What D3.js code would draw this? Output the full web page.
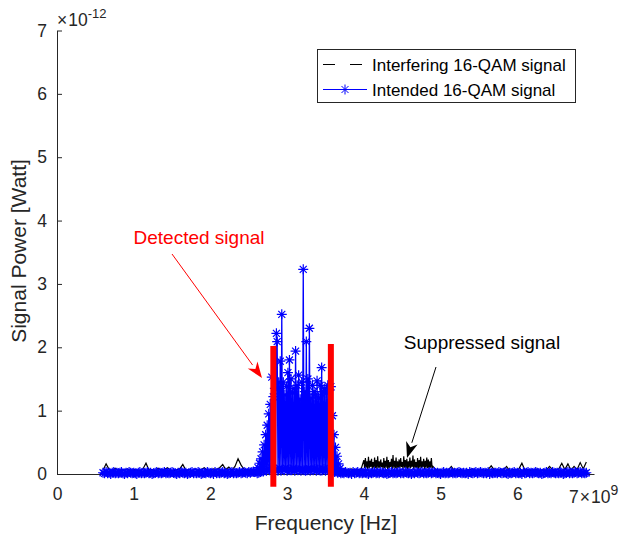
<!DOCTYPE html>
<html lang="en">
<head>
<meta charset="UTF-8">
<title>Detected vs suppressed signal</title>
<script src="https://d3js.org/d3.v7.min.js"></script>
<style>
    body { margin: 0; background: #fff; font-family: "Liberation Sans", Arial, sans-serif; }
    .tick text { font-family: "Liberation Sans", Arial, sans-serif; fill: #262626; }
</style>
</head>
<body>
<div id="chart"></div>
<script>
    // power values are in units of 1e-12 W, frequencies in GHz (axis shows x10^9)
    const xTicks = [0, 1, 2, 3, 4, 5, 6];
    const yTicks = [0, 1, 2, 3, 4, 5, 6, 7];

    // intended signal (blue), three pieces of one spectrum
    const blueLeftStart = 0.60, blueLeftStep = 0.02;
    const blueLeft = [0.02,0.01,0.03,0.01,0.02,0.00,0.02,0.03,0.01,0.02,
        0.01,0.02,0.03,0.01,0.00,0.02,0.01,0.03,0.02,0.01,
        0.02,0.01,0.00,0.02,0.03,0.01,0.02,0.01,0.02,0.03,
        0.01,0.02,0.00,0.01,0.02,0.03,0.01,0.02,0.01,0.02,
        0.03,0.01,0.02,0.01,0.02,0.03,0.02,0.01,0.00,0.02,
        0.01,0.03,0.02,0.01,0.02,0.00,0.01,0.02,0.03,0.01,
        0.02,0.01,0.03,0.02,0.00,0.01,0.02,0.01,0.03,0.02,
        0.01,0.02,0.00,0.03,0.01,0.02,0.01,0.02,0.03,0.01,
        0.02,0.00,0.01,0.02,0.03,0.01,0.02,0.01,0.02,0.03,
        0.01,0.02,0.03,0.02,0.01,0.03,0.02,0.03,0.04,0.03];
    const blueBandStart = 2.60, blueBandStep = 0.01;
    const blueBand = [0.04,0.01,0.10,0.02,0.17,0.03,0.24,0.05,0.35,0.04,
        0.46,0.06,0.62,0.05,0.77,0.08,0.95,0.06,1.10,0.10,
        1.53,0.05,1.22,0.07,1.35,0.06,2.22,2.09,0.05,1.45,
        0.09,1.78,0.05,2.52,0.08,1.45,0.06,1.25,0.10,1.38,
        0.05,1.60,0.07,1.80,0.06,1.50,0.06,1.28,0.09,1.35,
        0.05,1.94,0.08,1.40,0.06,1.56,0.07,1.18,0.05,1.45,
        0.08,3.23,0.06,1.30,0.05,2.09,0.06,1.50,0.09,2.30,
        0.05,1.20,0.07,1.40,0.06,1.30,0.08,1.25,0.05,1.47,
        0.07,1.20,0.06,1.40,0.05,1.68,0.06,1.30,0.08,1.35,
        0.05,1.28,0.07,1.40,0.06,1.32,0.05,1.38,0.04,0.92,
        0.05,0.62,0.03,0.42,0.04,0.28,0.02,0.16,0.03,0.09,
        0.01];
    const blueRightStart = 3.72, blueRightStep = 0.02;
    const blueRight = [0.02,0.01,0.03,0.02,0.01,0.02,0.00,0.03,0.01,0.02,
        0.03,0.01,0.02,0.01,0.02,0.03,0.01,0.00,0.02,0.01,
        0.02,0.03,0.01,0.02,0.01,0.03,0.02,0.01,0.02,0.00,
        0.01,0.02,0.03,0.01,0.02,0.01,0.02,0.03,0.01,0.02,
        0.01,0.03,0.02,0.01,0.02,0.00,0.02,0.01,0.03,0.02,
        0.01,0.02,0.03,0.01,0.02,0.01,0.02,0.03,0.01,0.02,
        0.03,0.01,0.02,0.01,0.00,0.02,0.03,0.01,0.02,0.01,
        0.02,0.03,0.01,0.02,0.01,0.02,0.03,0.02,0.01,0.02,
        0.01,0.02,0.00,0.03,0.02,0.01,0.02,0.03,0.01,0.02,
        0.03,0.02,0.01,0.02,0.01,0.03,0.00,0.02,0.01,0.02,
        0.02,0.01,0.03,0.02,0.01,0.02,0.03,0.01,0.00,0.02,
        0.01,0.02,0.03,0.01,0.02,0.01,0.02,0.00,0.03,0.01,
        0.02,0.03,0.01,0.02,0.01,0.02,0.03,0.02,0.01,0.02,
        0.00,0.01,0.02,0.03,0.01,0.02,0.01,0.03,0.02,0.01,
        0.02,0.01,0.03,0.02,0.00,0.01,0.02,0.03,0.01,0.02,
        0.01,0.02,0.03,0.01,0.02,0.03,0.01,0.02,0.01,0.02];

    // interfering signal (black)
    const blackLeftStart = 0.60, blackLeftStep = 0.04;
    const blackLeft = [0.06,0.16,0.07,0.05,0.09,0.05,0.07,0.06,0.08,0.05,
        0.07,0.06,0.05,0.08,0.17,0.06,0.07,0.05,0.09,0.06,
        0.07,0.10,0.06,0.05,0.07,0.08,0.15,0.06,0.07,0.05,
        0.08,0.06,0.07,0.10,0.06,0.05,0.08,0.07,0.10,0.15,
        0.07,0.11,0.06,0.12,0.24,0.14,0.07,0.06,0.05,0.04,
        0.05,0.05,0.05,0.05,0.05,0.05,0.05,0.05,0.05,0.05,
        0.05,0.05,0.05,0.05,0.05,0.05,0.05,0.05,0.05,0.05,
        0.05,0.05,0.05,0.05,0.05,0.05,0.05,0.05,0.06,0.07,
        0.05,0.08,0.06,0.07,0.06];
    const blackBurstStart = 4.00, blackBurstStep = 0.01;
    const blackBurst = [0.22,0.09,0.25,0.10,0.20,0.08,0.27,0.09,0.21,0.11,
        0.24,0.08,0.19,0.10,0.26,0.09,0.22,0.08,0.28,0.10,
        0.20,0.09,0.23,0.11,0.18,0.08,0.25,0.09,0.21,0.10,
        0.27,0.08,0.22,0.09,0.19,0.11,0.24,0.08,0.30,0.10,
        0.21,0.09,0.26,0.08,0.20,0.10,0.23,0.09,0.25,0.11,
        0.19,0.08,0.28,0.10,0.22,0.09,0.24,0.08,0.20,0.10,
        0.26,0.09,0.21,0.11,0.29,0.08,0.23,0.10,0.19,0.09,
        0.25,0.08,0.22,0.10,0.27,0.09,0.20,0.11,0.24,0.08,
        0.21,0.10,0.26,0.09,0.23,0.08,0.20,0.10,0.25,0.09,
        0.12];
    const blackRightStart = 4.94, blackRightStep = 0.04;
    const blackRight = [0.07,0.06,0.05,0.07,0.06,0.12,0.05,0.06,0.07,0.05,
        0.06,0.07,0.08,0.05,0.06,0.07,0.05,0.07,0.13,0.06,
        0.05,0.07,0.06,0.12,0.05,0.07,0.06,0.08,0.17,0.06,
        0.07,0.05,0.06,0.08,0.05,0.07,0.06,0.12,0.07,0.06,
        0.08,0.17,0.07,0.16,0.06,0.12,0.07,0.18,0.08,0.19];

    // detection band edges (red bars)
    const detectFreq = [2.82, 3.57];
    const detectTop = [2.02, 2.05];
    const detectBottom = -0.2;

    const legendLabels = ['Interfering 16-QAM signal', 'Intended 16-QAM signal'];

    function segment(start, step, vals) {
        return vals.map((v, i) => ({ f: start + step * i, p: v }));
    }
    const blueData = segment(blueLeftStart, blueLeftStep, blueLeft)
        .concat(segment(blueBandStart, blueBandStep, blueBand))
        .concat(segment(blueRightStart, blueRightStep, blueRight));
    const blackData = segment(blackLeftStart, blackLeftStep, blackLeft)
        .concat(segment(blackBurstStart, blackBurstStep, blackBurst))
        .concat(segment(blackRightStart, blackRightStep, blackRight));

    const width = 621, height = 546;
    const svg = d3.select('#chart').append('svg')
        .attr('width', width).attr('height', height);

    const x = d3.scaleLinear().domain([0, 7]).range([57, 594]);
    const y = d3.scaleLinear().domain([0, 7]).range([474, 30.5]);
    const axisColor = '#262626';

    // axes
    const xAxis = svg.append('g')
        .attr('transform', 'translate(0,474)')
        .call(d3.axisBottom(x).tickValues(xTicks).tickFormat(d3.format('d'))
            .tickSizeInner(-5).tickSizeOuter(0).tickPadding(14));
    const yAxis = svg.append('g')
        .attr('transform', 'translate(57,0)')
        .call(d3.axisLeft(y).tickValues(yTicks).tickFormat(d3.format('d'))
            .tickSizeInner(-5).tickSizeOuter(0).tickPadding(10));
    [xAxis, yAxis].forEach(g => {
        g.select('.domain').attr('stroke', axisColor);
        g.selectAll('.tick line').attr('stroke', axisColor);
        g.selectAll('.tick text').style('font-size', '17.5px');
    });

    // exponents
    svg.append('text')
        .attr('x', 57).attr('y', 26)
        .attr('fill', axisColor)
        .style('font-size', '17.5px')
        .call(t => {
            t.append('tspan').text('\u00d7');
            t.append('tspan').attr('dx', 1).text('10');
            t.append('tspan').attr('dy', -8).style('font-size', '13px').text('-12');
        });
    svg.append('text')
        .attr('x', 569).attr('y', 503)
        .attr('fill', axisColor)
        .style('font-size', '17.5px')
        .call(t => {
            t.append('tspan').text('7');
            t.append('tspan').attr('dx', 1).text('\u00d7');
            t.append('tspan').attr('dx', 1).text('10');
            t.append('tspan').attr('dy', -8).style('font-size', '14px').text('9');
        });

    // axis labels
    svg.append('text')
        .attr('x', 326).attr('y', 530)
        .attr('text-anchor', 'middle')
        .attr('fill', axisColor)
        .style('font-size', '21px')
        .text('Frequency [Hz]');
    svg.append('text')
        .attr('transform', 'translate(26,251) rotate(-90)')
        .attr('text-anchor', 'middle')
        .attr('fill', axisColor)
        .style('font-size', '21px')
        .text('Signal Power [Watt]');

    const line = d3.line().x(d => x(d.f)).y(d => y(d.p));
    const star = 'M-5,0H5M0,-5V5M-3.5,-3.5L3.5,3.5M-3.5,3.5L3.5,-3.5';

    // interfering
    svg.append('path')
        .datum(blackData)
        .attr('d', line)
        .attr('fill', 'none')
        .attr('stroke', '#000')
        .attr('stroke-width', 1.2);

    // intended
    svg.append('path')
        .datum(blueData)
        .attr('d', line)
        .attr('fill', 'none')
        .attr('stroke', '#0000ff')
        .attr('stroke-width', 1.3);
    svg.append('g').selectAll('path')
        .data(blueData)
        .enter().append('path')
        .attr('d', star)
        .attr('transform', d => `translate(${x(d.f)},${y(d.p)})`)
        .attr('fill', 'none')
        .attr('stroke', '#0000ff')
        .attr('stroke-width', 1.2);

    // detection edges
    svg.selectAll('.edge')
        .data(detectFreq)
        .enter().append('line')
        .attr('class', 'edge')
        .attr('x1', d => x(d)).attr('x2', d => x(d))
        .attr('y1', y(detectBottom))
        .attr('y2', (d, i) => y(detectTop[i]))
        .attr('stroke', '#ff0000')
        .attr('stroke-width', 6);

    // annotations
    function arrow(x1, y1, x2, y2, color) {
        const a = Math.atan2(y2 - y1, x2 - x1);
        const len = 16, half = 6;
        const bx = x2 - len * Math.cos(a), by = y2 - len * Math.sin(a);
        svg.append('line')
            .attr('x1', x1).attr('y1', y1).attr('x2', bx).attr('y2', by)
            .attr('stroke', color).attr('stroke-width', 1);
        const p1 = [bx + half * Math.sin(a), by - half * Math.cos(a)];
        const p2 = [bx - half * Math.sin(a), by + half * Math.cos(a)];
        const mid = [x2 - 0.7 * len * Math.cos(a), y2 - 0.7 * len * Math.sin(a)];
        svg.append('path')
            .attr('d', `M${x2},${y2}L${p1}L${mid}L${p2}Z`)
            .attr('fill', color);
    }
    svg.append('text')
        .attr('x', 199).attr('y', 244)
        .attr('text-anchor', 'middle')
        .attr('fill', '#ff0000')
        .style('font-size', '19px')
        .text('Detected signal');
    arrow(172, 254, 262, 378, '#ff0000');

    svg.append('text')
        .attr('x', 482).attr('y', 349)
        .attr('text-anchor', 'middle')
        .attr('fill', '#000')
        .style('font-size', '19px')
        .text('Suppressed signal');
    arrow(436, 367, 407, 458, '#000');

    // legend
    const lg = svg.append('g');
    lg.append('rect')
        .attr('x', 317.5).attr('y', 49.5).attr('width', 258).attr('height', 53)
        .attr('fill', '#fff').attr('stroke', axisColor).attr('stroke-width', 1);
    lg.append('line')
        .attr('x1', 323).attr('x2', 362).attr('y1', 64.5).attr('y2', 64.5)
        .attr('stroke', '#000').attr('stroke-width', 1)
        .attr('stroke-dasharray', '12,15');
    lg.append('line')
        .attr('x1', 323).attr('x2', 367).attr('y1', 89.5).attr('y2', 89.5)
        .attr('stroke', '#0000ff').attr('stroke-width', 1.2);
    lg.append('path')
        .attr('d', star)
        .attr('transform', 'translate(345,89.5)')
        .attr('fill', 'none').attr('stroke', '#0000ff');
    lg.selectAll('text')
        .data(legendLabels)
        .enter().append('text')
        .attr('x', 372)
        .attr('y', (d, i) => 70.5 + i * 25)
        .attr('fill', '#000')
        .style('font-size', '17px')
        .text(d => d);
</script>
</body>
</html>
